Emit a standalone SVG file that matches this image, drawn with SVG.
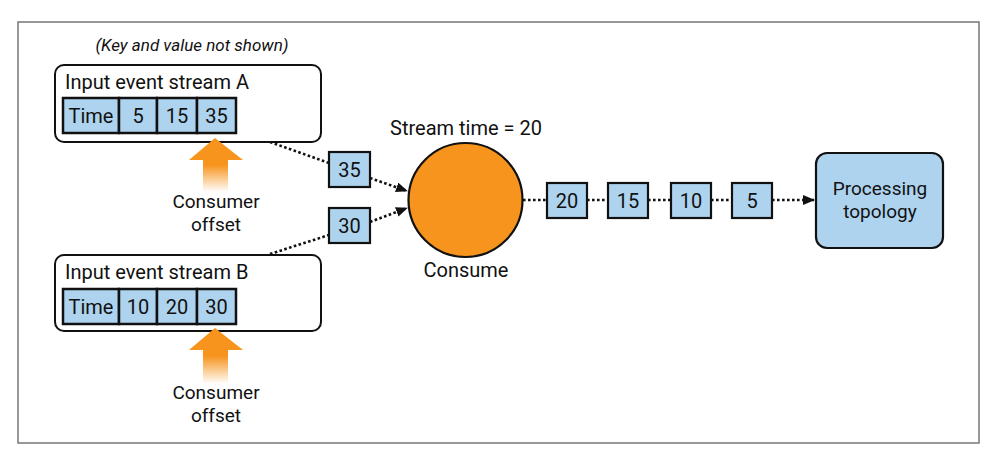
<svg xmlns="http://www.w3.org/2000/svg" width="990" height="455" viewBox="0 0 990 455">
<style>
text{font-family:Roboto,"Liberation Sans","Noto Sans",Arial,sans-serif;font-size:20px;font-weight:400;fill:#111}
.mid{text-anchor:middle}
.two{font-size:19px}
.box{fill:#fff;stroke:#111;stroke-width:2}
.cell{fill:#aed3ee;stroke:#111;stroke-width:2.5}
.sq{fill:#aed3ee;stroke:#111;stroke-width:2.2}
.dot{fill:none;stroke:#111;stroke-width:2.6;stroke-dasharray:2.6 2.4}
.arr{marker-end:url(#ah)}
</style>
<defs>
<marker id="ah" viewBox="0 0 12 10" refX="11" refY="5" markerWidth="12" markerHeight="10" markerUnits="userSpaceOnUse" orient="auto">
<path d="M0,0 L12,5 L0,10 Z" fill="#111"/>
</marker>
<linearGradient id="og" x1="0" y1="0" x2="0" y2="1">
<stop offset="0" stop-color="#f7941d"/>
<stop offset="0.5" stop-color="#f7941d"/>
<stop offset="1" stop-color="#f7941d" stop-opacity="0"/>
</linearGradient>
</defs>
<rect x="0" y="0" width="990" height="455" fill="#fff"/>
<rect x="18" y="22" width="961" height="421" fill="#fff" stroke="#777" stroke-width="1.5"/>
<text x="192" y="51" class="mid" style="font-style:italic;font-size:17px">(Key and value not shown)</text>

<g id="connectors">
<path class="dot" d="M270,142 L329,163"/>
<path class="dot arr" d="M370,178 L407,191"/>
<path class="dot" d="M270,254 L329,235"/>
<path class="dot arr" d="M370,222 L407,208"/>
<path class="dot" d="M523,200 L547,200"/>
<path class="dot" d="M587,200 L608,200"/>
<path class="dot" d="M648,200 L671,200"/>
<path class="dot" d="M711,200 L732,200"/>
<path class="dot arr" d="M772,200 L814,200"/>
</g>

<g id="streamA">
<rect class="box" x="55" y="65" width="266" height="77" rx="9"/>
<text x="65" y="89">Input event stream A</text>
<rect class="cell" x="63" y="98" width="56" height="35"/>
<rect class="cell" x="119" y="98" width="38" height="35"/>
<rect class="cell" x="157" y="98" width="40" height="35"/>
<rect class="cell" x="197" y="98" width="39" height="35"/>
<text x="91" y="123" class="mid">Time</text>
<text x="138" y="123" class="mid">5</text>
<text x="177" y="123" class="mid">15</text>
<text x="216.5" y="123" class="mid">35</text>
</g>

<g id="offsetA">
<path d="M215,138 L243,160 L228,160 L228,192 L203,192 L203,160 L189,160 Z" fill="url(#og)"/>
<text class="mid two"><tspan x="216" y="208">Consumer</tspan><tspan x="216" y="231">offset</tspan></text>
</g>

<g id="streamB">
<rect class="box" x="55" y="255" width="266" height="76" rx="9"/>
<text x="65" y="279">Input event stream B</text>
<rect class="cell" x="63" y="289" width="56" height="35"/>
<rect class="cell" x="119" y="289" width="38" height="35"/>
<rect class="cell" x="157" y="289" width="40" height="35"/>
<rect class="cell" x="197" y="289" width="39" height="35"/>
<text x="91" y="314" class="mid">Time</text>
<text x="138" y="314" class="mid">10</text>
<text x="177" y="314" class="mid">20</text>
<text x="216.5" y="314" class="mid">30</text>
</g>

<g id="offsetB">
<path d="M215,328 L243,350 L228,350 L228,384 L203,384 L203,350 L189,350 Z" fill="url(#og)"/>
<text class="mid two"><tspan x="216" y="399">Consumer</tspan><tspan x="216" y="422">offset</tspan></text>
</g>

<g id="rec35">
<rect class="sq" x="329" y="152" width="41" height="35"/>
<text x="349.5" y="177" class="mid">35</text>
</g>
<g id="rec30">
<rect class="sq" x="329" y="208" width="41" height="35"/>
<text x="349.5" y="233" class="mid">30</text>
</g>

<g id="consume">
<text x="466" y="135" class="mid">Stream time = 20</text>
<circle cx="465.5" cy="200" r="57" fill="#f7941d" stroke="#111" stroke-width="2.2"/>
<text x="466" y="277" class="mid">Consume</text>
</g>

<g id="rec20">
<rect class="sq" x="547" y="183" width="40" height="35"/>
<text x="567" y="208" class="mid">20</text>
</g>
<g id="rec15">
<rect class="sq" x="608" y="183" width="40" height="35"/>
<text x="628" y="208" class="mid">15</text>
</g>
<g id="rec10">
<rect class="sq" x="671" y="183" width="40" height="35"/>
<text x="691" y="208" class="mid">10</text>
</g>
<g id="rec5">
<rect class="sq" x="732" y="183" width="40" height="35"/>
<text x="752" y="208" class="mid">5</text>
</g>

<g id="topology">
<rect x="816" y="153" width="127" height="95" rx="11" fill="#aed3ee" stroke="#111" stroke-width="2.2"/>
<text class="mid two"><tspan x="880" y="195">Processing</tspan><tspan x="880" y="218">topology</tspan></text>
</g>
</svg>
